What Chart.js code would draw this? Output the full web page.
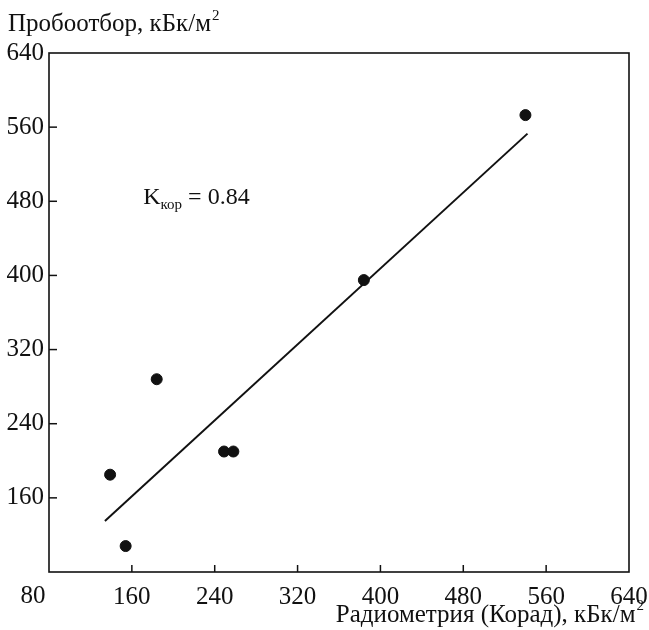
<!DOCTYPE html>
<html>
<head>
<meta charset="utf-8">
<script src="https://cdn.jsdelivr.net/npm/chart.js@4/dist/chart.umd.min.js"></script>
<style>
  body { margin: 0; background: #fff; }
  #wrap { width: 649px; height: 630px; position: relative; }
</style>
</head>
<body>
<div id="wrap"><canvas id="myChart"></canvas></div>
<script>
'use strict';

// measured points: радиометрия (x) vs пробоотбор (y)
const radiometry = [139, 154, 184, 249, 258, 384, 540];
const sampling   = [185, 108, 288, 210, 210, 395, 573];

// regression line end points
const fitX = [134, 542];
const fitY = [135, 553];

const tickValues = [80, 160, 240, 320, 400, 480, 560, 640];
const yTitle = 'Пробоотбор, кБк/м';
const xTitle = 'Радиометрия (Корад), кБк/м';
const corrLabel = { x: 171, y: 477, value: '0.84' };

const FONT = '"Liberation Serif", "DejaVu Serif", serif';

const points = radiometry.map((x, i) => ({ x: x, y: sampling[i] }));
const fitLine = fitX.map((x, i) => ({ x: x, y: fitY[i] }));

// frame, inward ticks, axis titles and the K annotation
const decorations = {
    id: 'decorations',
    afterDraw(chart) {
        const ctx = chart.ctx;
        const a = chart.chartArea;
        const xs = chart.scales.x, ys = chart.scales.y;
        ctx.save();
        ctx.strokeStyle = '#111';
        ctx.lineWidth = 1.6;
        ctx.strokeRect(a.left, a.top, a.right - a.left, a.bottom - a.top);

        ctx.lineWidth = 1.5;
        tickValues.slice(1, -1).forEach(v => {
            const px = xs.getPixelForValue(v);
            ctx.beginPath();
            ctx.moveTo(px, a.bottom);
            ctx.lineTo(px, a.bottom - 7);
            ctx.stroke();
            const py = ys.getPixelForValue(v);
            ctx.beginPath();
            ctx.moveTo(a.left, py);
            ctx.lineTo(a.left + 8, py);
            ctx.stroke();
        });

        ctx.fillStyle = '#111';
        ctx.textBaseline = 'alphabetic';

        // shared corner label
        ctx.font = '25px ' + FONT;
        ctx.textAlign = 'center';
        ctx.fillText('80', 33, 603);

        // y title
        ctx.textAlign = 'left';
        ctx.font = '25px ' + FONT;
        ctx.fillText(yTitle, 8, 31);
        let w = ctx.measureText(yTitle).width;
        ctx.font = '15px ' + FONT;
        ctx.fillText('2', 8 + w + 1, 20);

        // x title
        ctx.font = '15px ' + FONT;
        const supW = ctx.measureText('2').width;
        ctx.font = '25px ' + FONT;
        w = ctx.measureText(xTitle).width;
        const xEnd = 644 - supW - 1;
        ctx.fillText(xTitle, xEnd - w, 622);
        ctx.font = '15px ' + FONT;
        ctx.fillText('2', xEnd + 1, 610);

        // K_kor = 0.84
        let tx = xs.getPixelForValue(corrLabel.x);
        const ty = ys.getPixelForValue(corrLabel.y);
        ctx.font = '24px ' + FONT;
        ctx.fillText('K', tx, ty);
        tx += ctx.measureText('K').width;
        ctx.font = '15px ' + FONT;
        ctx.fillText('кор', tx, ty + 5);
        tx += ctx.measureText('кор').width;
        ctx.font = '24px ' + FONT;
        ctx.fillText(' = ' + corrLabel.value, tx, ty);
        ctx.restore();
    }
};

const ctx = document.getElementById('myChart').getContext('2d');
const myChart = new Chart(ctx, {
    type: 'scatter',
    data: {
        datasets: [
            {
                label: 'points',
                data: points,
                backgroundColor: '#111',
                borderColor: '#111',
                pointRadius: 5.5,
                pointHoverRadius: 5.5
            },
            {
                type: 'line',
                label: 'fit',
                data: fitLine,
                borderColor: '#111',
                borderWidth: 2,
                pointRadius: 0,
                fill: false
            }
        ]
    },
    options: {
        responsive: true,
        maintainAspectRatio: false,
        animation: false,
        layout: { padding: { top: 53, right: 20, left: 0, bottom: 0 } },
        plugins: {
            legend: { display: false },
            tooltip: { enabled: false }
        },
        scales: {
            x: {
                type: 'linear',
                min: 80,
                max: 640,
                afterBuildTicks: s => { s.ticks = tickValues.map(v => ({ value: v })); },
                afterFit: s => { s.height = 58; s.paddingLeft = 0; s.paddingRight = 0; },
                grid: { display: false, drawTicks: false },
                border: { display: false },
                ticks: {
                    padding: 10,
                    color: '#111',
                    font: { family: FONT, size: 25 },
                    maxRotation: 0,
                    callback: v => (v === 80 ? '' : v)
                }
            },
            y: {
                type: 'linear',
                min: 80,
                max: 640,
                afterBuildTicks: s => { s.ticks = tickValues.map(v => ({ value: v })); },
                afterFit: s => { s.width = 49; s.paddingTop = 0; s.paddingBottom = 0; },
                grid: { display: false, drawTicks: false },
                border: { display: false },
                ticks: {
                    padding: 5,
                    color: '#111',
                    font: { family: FONT, size: 25 },
                    callback: v => (v === 80 ? '' : v)
                }
            }
        }
    },
    plugins: [decorations]
});
</script>
</body>
</html>
